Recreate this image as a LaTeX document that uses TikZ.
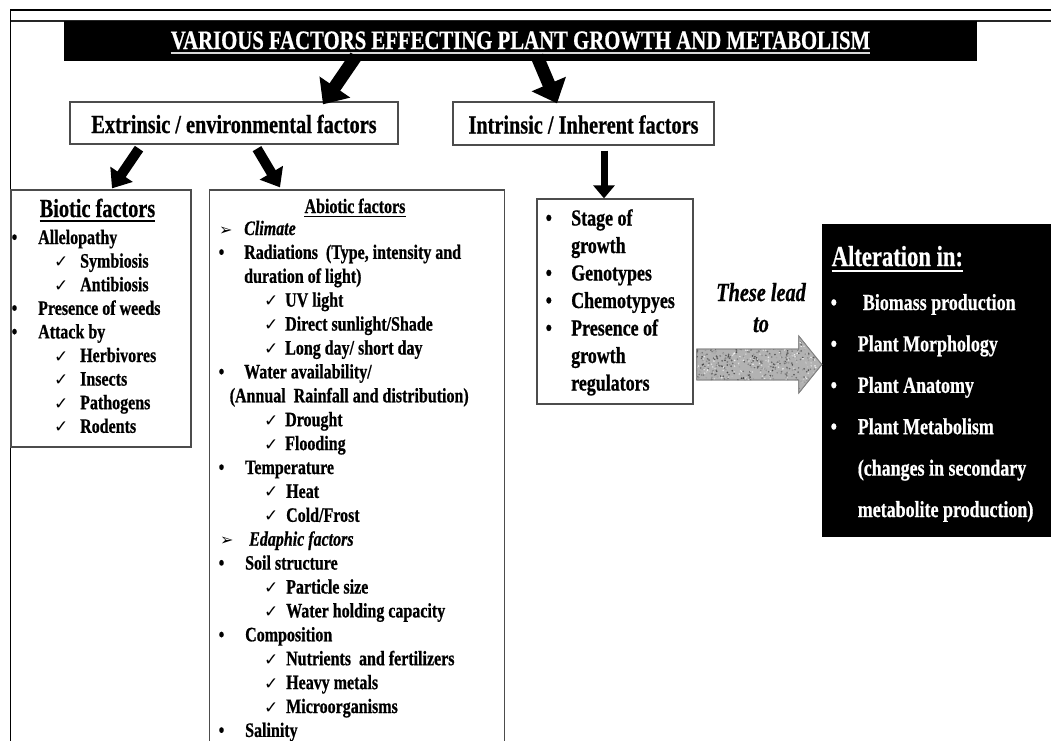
\documentclass[tikz,border=0pt]{standalone}
\usepackage{fontspec}
\setmainfont{Liberation Serif}[FakeStretch=0.78, BoldFeatures={FakeBold=0.7}, BoldItalicFeatures={FakeBold=0.7}]
\newfontfamily\symf{DejaVu Sans}
\usetikzlibrary{arrows.meta,calc}
\newcommand{\chk}{{\symf\mdseries\fontsize{17}{17}\selectfont ✓}}
\newcommand{\arw}{{\symf\bfseries\fontsize{16}{16}\selectfont ➢}}
\newcommand{\bul}{•}
\newcommand{\Itm}[7]{\node[#1] (#2s) at (#4,#3) {#5}; \node[#1] (#2) at (#6,#3) {#7};}
\begin{document}
\begin{tikzpicture}[x=1pt,y=-1pt,
  boxst/.style={draw=black!70, line width=1.3pt, fill=white, inner sep=0pt},
  hdr/.style={font=\fontsize{26}{30}\selectfont\bfseries},
  rowst/.style={anchor=base west, inner sep=0pt},
  biorow/.style={rowst, font=\fontsize{20.5}{24}\selectfont\bfseries},
  subrow/.style={rowst, font=\fontsize{23}{27}\selectfont\bfseries},
  altrow/.style={rowst, text=white, font=\fontsize{23}{27}\selectfont\bfseries},
  bigarr/.style={line width=13pt, -{Triangle[length=21pt,width=36pt]}},
  midarr/.style={line width=10pt, -{Triangle[length=17pt,width=26pt]}},
  smallarr/.style={line width=7pt, -{Triangle[length=13pt,width=21pt]}},
  uline/.style={line width=1.6pt},
  garrow/.style={fill=black!30, draw=black!45, line width=0.8pt},
]
\clip (0,0) rectangle (1051,740);
\fill[white] (0,0) rectangle (1051,740);
% frame
\draw[line width=1.4pt] (1060,10) -- (10.5,10) -- (10.5,750);
\draw[line width=2pt, black!85] (10.5,20.5) -- (1060,20.5);
% boxes
\node[fill=black, inner sep=0pt, minimum width=913pt, minimum height=40pt] (banner) at (520.5,41) {};
\node[boxst, hdr, minimum width=328pt, minimum height=42pt, text height=20pt, text depth=0pt] (ext) at (234,123) {Extrinsic / environmental factors};
\node[boxst, hdr, minimum width=261pt, minimum height=43pt, text height=20pt, text depth=0pt] (int) at (583.5,123.5) {Intrinsic / Inherent factors};
\node[boxst, minimum width=180pt, minimum height=257pt] (bio) at (101,318.5) {};
\node[boxst, minimum width=295pt, minimum height=590pt] (abio) at (357,485) {};
\node[boxst, minimum width=156pt, minimum height=205pt] (subbox) at (615,301.5) {};
\node[fill=black, inner sep=0pt, minimum width=240pt, minimum height=313pt] (altbox) at (942,380.5) {};
% title
\node[text=white, anchor=base, inner sep=0pt, font=\fontsize{26.6}{30}\selectfont\bfseries] (title) at (520.5,49) {VARIOUS FACTORS EFFECTING PLANT GROWTH AND METABOLISM};
\draw[white!85!black, uline] ([yshift=-4pt]title.base west) -- ([yshift=-4pt]title.base east);
% connectors
\draw[bigarr] ([xshift=-164.5pt,yshift=5pt]banner.south) -- ([xshift=89pt,yshift=-3pt]ext.north);
\draw[bigarr] ([xshift=16.5pt,yshift=5pt]banner.south) -- ([xshift=-26.5pt,yshift=-2pt]int.north);
\draw[midarr] ([xshift=-95pt,yshift=-4pt]ext.south) -- ([xshift=11pt,yshift=1pt]bio.north);
\draw[midarr] ([xshift=23pt,yshift=-4pt]ext.south) -- ([xshift=-77pt,yshift=2pt]abio.north);
\draw[smallarr] ([xshift=20.5pt,yshift=-5pt]int.south) -- ([xshift=-11pt]subbox.north);
% grey arrow
\coordinate (gs) at ([xshift=3pt]subbox.east |- 0,364.5);
\coordinate (ge) at (altbox.west |- gs);
\def\garpath{($(gs)+(0,-15.5)$) -- ($(ge)+(-23,-15.5)$) -- ($(ge)+(-23,-28.5)$) -- (ge) -- ($(ge)+(-23,28.5)$) -- ($(ge)+(-23,15.5)$) -- ($(gs)+(0,15.5)$) -- cycle}
\path[garrow] \garpath;
\begin{scope}
\clip \garpath;
\pgfmathsetseed{7}
\foreach \i in {1,...,900}{
  \pgfmathsetmacro\rx{696+126*rnd}
  \pgfmathsetmacro\ry{336+57*rnd}
  \pgfmathsetmacro\gv{int(5+70*rnd)}
  \fill[black!\gv] (\rx,\ry) circle (0.9pt);
}
\end{scope}
\path[draw=black!50, line width=0.8pt] \garpath;
\node[anchor=base, inner sep=0pt, font=\fontsize{26}{30}\selectfont\bfseries\itshape] (lead1) at (761,301) {These lead};
\node[anchor=base, inner sep=0pt, font=\fontsize{26}{30}\selectfont\bfseries\itshape] (lead2) at (761,332) {to};
% biotic
\node[hdr, anchor=base, inner sep=0pt] (bioh) at (97.5,217) {Biotic factors};
\draw[uline] ([yshift=-4pt]bioh.base west) -- ([yshift=-4pt]bioh.base east);
\Itm{biorow}{b1}{244}{11.5}{\bul}{38}{Allelopathy}
\Itm{biorow}{b2}{267.6}{54}{\chk}{80}{Symbiosis}
\Itm{biorow}{b3}{291.2}{54}{\chk}{80}{Antibiosis}
\Itm{biorow}{b4}{314.8}{11.5}{\bul}{38}{Presence of weeds}
\Itm{biorow}{b5}{338.4}{11.5}{\bul}{38}{Attack by}
\Itm{biorow}{b6}{362}{54}{\chk}{80}{Herbivores}
\Itm{biorow}{b7}{385.6}{54}{\chk}{80}{Insects}
\Itm{biorow}{b8}{409.2}{54}{\chk}{80}{Pathogens}
\Itm{biorow}{b9}{432.8}{54}{\chk}{80}{Rodents}
% abiotic
\node[biorow, anchor=base] (abh) at (355,213) {Abiotic factors};
\draw[line width=1.3pt] ([yshift=-3.5pt]abh.base west) -- ([yshift=-3.5pt]abh.base east);
\Itm{biorow}{a0}{235}{219}{\arw}{244}{\itshape Climate}
\Itm{biorow}{a1}{258.9}{218.5}{\bul}{244}{Radiations\ \ (Type, intensity and}
\node[biorow] (a2) at (244,282.8) {duration of light)};
\Itm{biorow}{a3}{306.7}{264}{\chk}{285}{UV light}
\Itm{biorow}{a4}{330.6}{264}{\chk}{285}{Direct sunlight/Shade}
\Itm{biorow}{a5}{354.5}{264}{\chk}{285}{Long day/ short day}
\Itm{biorow}{a6}{378.4}{218.5}{\bul}{244}{Water availability/}
\node[biorow] (a7) at (229.5,402.3) {(Annual\ \ Rainfall and distribution)};
\Itm{biorow}{a8}{426.2}{264}{\chk}{285}{Drought}
\Itm{biorow}{a9}{450.1}{264}{\chk}{285}{Flooding}
\Itm{biorow}{a10}{474}{218.5}{\bul}{245}{Temperature}
\Itm{biorow}{a11}{497.9}{264}{\chk}{286}{Heat}
\Itm{biorow}{a12}{521.8}{264}{\chk}{286}{Cold/Frost}
\Itm{biorow}{a13}{545.7}{220}{\arw}{249}{\itshape Edaphic factors}
\Itm{biorow}{a14}{569.6}{218.5}{\bul}{245}{Soil structure}
\Itm{biorow}{a15}{593.5}{264}{\chk}{286}{Particle size}
\Itm{biorow}{a16}{617.4}{264}{\chk}{286}{Water holding capacity}
\Itm{biorow}{a17}{641.3}{218.5}{\bul}{245}{Composition}
\Itm{biorow}{a18}{665.2}{264}{\chk}{286}{Nutrients\ \ and fertilizers}
\Itm{biorow}{a19}{689.1}{264}{\chk}{286}{Heavy metals}
\Itm{biorow}{a20}{713}{264}{\chk}{286}{Microorganisms}
\Itm{biorow}{a21}{736.9}{218.5}{\bul}{245}{Salinity}
% intrinsic list
\Itm{subrow}{i1}{225.5}{545.5}{\bul}{571}{Stage of}
\node[subrow] (i2) at (571,253) {growth};
\Itm{subrow}{i3}{280.5}{545.5}{\bul}{571}{Genotypes}
\Itm{subrow}{i4}{308}{545.5}{\bul}{571}{Chemotypyes}
\Itm{subrow}{i5}{335.5}{545.5}{\bul}{571}{Presence of}
\node[subrow] (i6) at (571,363) {growth};
\node[subrow] (i7) at (571,390.5) {regulators};
% alteration list
\node[altrow, font=\fontsize{29}{33}\selectfont\bfseries] (alth) at (831.5,266) {Alteration in:};
\draw[white, line width=2pt] ([yshift=-5pt]alth.base west) -- ([yshift=-5pt]alth.base east);
\Itm{altrow}{l1}{310}{830.5}{\bul}{862.7}{Biomass production}
\Itm{altrow}{l2}{351.4}{830.5}{\bul}{857.6}{Plant Morphology}
\Itm{altrow}{l3}{392.8}{830.5}{\bul}{857.6}{Plant Anatomy}
\Itm{altrow}{l4}{434.2}{830.5}{\bul}{857.6}{Plant Metabolism}
\node[altrow] (l5) at (857.6,475.6) {(changes in secondary};
\node[altrow] (l6) at (857.6,517) {metabolite production)};
\end{tikzpicture}
\end{document}
